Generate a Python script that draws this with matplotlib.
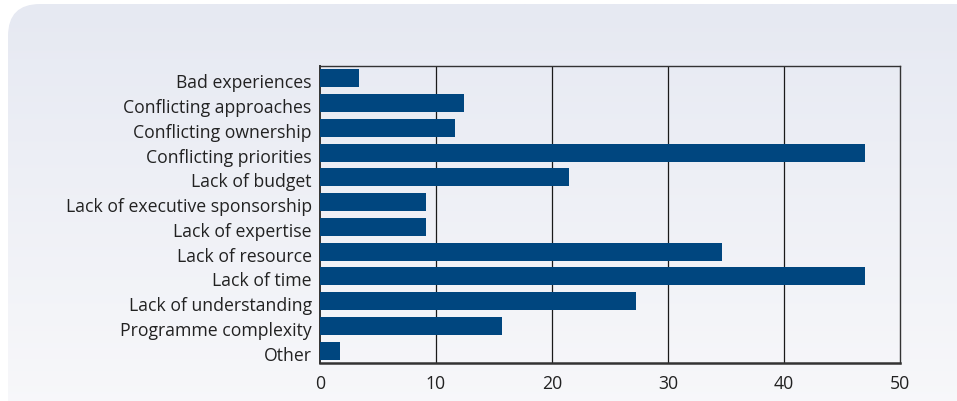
import matplotlib
matplotlib.use("Agg")
import matplotlib.pyplot as plt
import matplotlib.transforms as mtransforms
import numpy as np
from matplotlib.patches import FancyBboxPatch

categories = ["Bad experiences", "Conflicting approaches", "Conflicting ownership",
              "Conflicting priorities", "Lack of budget", "Lack of executive sponsorship",
              "Lack of expertise", "Lack of resource", "Lack of time",
              "Lack of understanding", "Programme complexity", "Other"]
values = [3.35, 12.4, 11.6, 47.0, 21.5, 9.1, 9.1, 34.65, 47.0, 27.25, 15.7, 1.7]
xticks = [0, 10, 20, 30, 40, 50]

plt.rcParams['font.family'] = ['Open Sans', 'DejaVu Sans']

W, H = 957, 402
fig = plt.figure(figsize=(W / 100, H / 100), dpi=100)
fig.patch.set_facecolor("white")

# background panel with vertical gradient
bg = fig.add_axes([0, 0, 1, 1], zorder=-1)
bg.axis("off")
grad = np.linspace(0, 1, 256).reshape(-1, 1)
top = np.array([0xe6, 0xe9, 0xf2]) / 255
bot = np.array([0xf9, 0xf9, 0xfb]) / 255
img = top + (bot - top) * grad[..., None]
img = np.repeat(img, 2, axis=1)
im = bg.imshow(img, extent=[8, W + 40, H + 40, 5], aspect="auto", interpolation="bilinear")
panel = FancyBboxPatch((8, 5), W + 40, H + 40, boxstyle="round,pad=0,rounding_size=32",
                       transform=bg.transData, facecolor="none", edgecolor="none")
bg.add_patch(panel)
im.set_clip_path(panel)
bg.set_xlim(0, W)
bg.set_ylim(H, 0)

# main axes
x0, x1 = 320, 900
y0, y1 = 67, 364
ax = fig.add_axes([x0 / W, 1 - y1 / H, (x1 - x0) / W, (y1 - y0) / H])
ax.patch.set_alpha(0)
y = np.arange(len(categories))
ax.barh(y, values, height=0.72, color="#00467f", zorder=3)
ax.set_ylim(len(categories) - 0.5, -0.5)
ax.set_xlim(0, 50)
ax.set_xticks(xticks)
ax.set_yticks(y)
ax.set_yticklabels(categories)
ax.tick_params(axis="both", length=0, labelsize=12.7, colors="#222222")
ax.tick_params(axis="x", pad=8)
ax.tick_params(axis="y", pad=6)
off = mtransforms.ScaledTranslation(0, -2 / 100, fig.dpi_scale_trans)
for lab in ax.get_yticklabels():
    lab.set_transform(lab.get_transform() + off)
for v in xticks[1:-1]:
    ax.axvline(v, color="#1a1a1a", lw=0.9, zorder=2)
for s in ax.spines.values():
    s.set_color("#333333")
    s.set_linewidth(1.0)
ax.spines["bottom"].set_linewidth(1.8)
ax.spines["left"].set_linewidth(1.4)

fig.savefig("out.png", dpi=100)
